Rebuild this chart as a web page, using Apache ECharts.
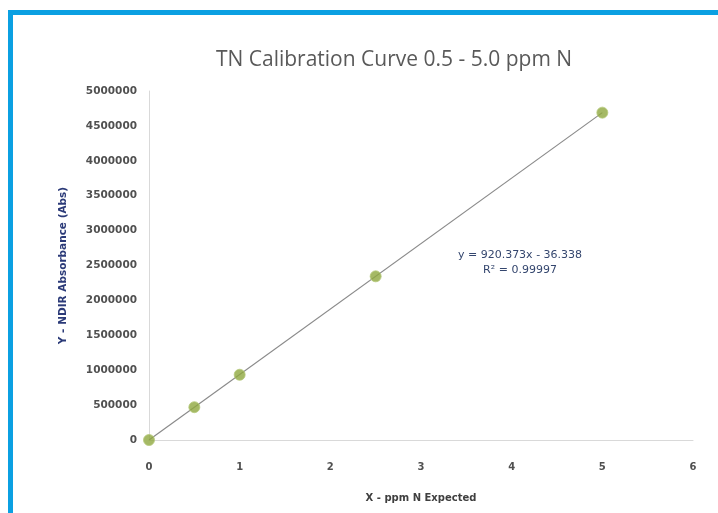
<!DOCTYPE html>
<html>
<head>
<meta charset="utf-8">
<script src="https://cdn.jsdelivr.net/npm/echarts@6/dist/echarts.min.js"></script>
<style>
  html, body { margin: 0; padding: 0; background: #fff; }
  #chart { width: 718px; height: 513px; }
</style>
</head>
<body>
<div id="chart"></div>
<script>
// measured points (ppm N expected vs NDIR absorbance)
var ppmValues = [0, 0.5, 1, 2.5, 5];
var absValues = [0, 470000, 935000, 2345000, 4690000];

// linear trend line end points
var trendX = [0, 5];
var trendY = [-36, 4690000];

var titleText = 'TN Calibration Curve 0.5 - 5.0 ppm N';
var equationLines = ['y = 920.373x - 36.338', 'R\u00b2 = 0.99997'];

var myChart = echarts.init(document.getElementById('chart'));

var points = ppmValues.map(function (x, i) { return [x, absValues[i]]; });
var trend = trendX.map(function (x, i) { return [x, trendY[i]]; });

var option = {
    backgroundColor: '#ffffff',
    animation: false,
    title: {
        text: titleText,
        left: 389,
        top: 45,
        textAlign: 'center',
        textStyle: {
            fontFamily: 'Open Sans',
            fontWeight: 'normal',
            fontSize: 21,
            color: '#595959'
        }
    },
    grid: {
        left: 149,
        right: 25,
        top: 91,
        bottom: 73
    },
    xAxis: {
        type: 'value',
        min: 0,
        max: 6,
        interval: 1,
        name: 'X - ppm N Expected',
        nameLocation: 'middle',
        nameGap: 53,
        nameTextStyle: {
            fontFamily: 'DejaVu Sans',
            fontWeight: 'bold',
            fontSize: 10,
            color: '#404040'
        },
        axisLine: { lineStyle: { color: '#d9d9d9', width: 1 } },
        axisTick: { show: false },
        splitLine: { show: false },
        axisLabel: {
            margin: 22,
            fontFamily: 'DejaVu Sans',
            fontWeight: 'bold',
            fontSize: 10,
            color: '#505050'
        }
    },
    yAxis: {
        type: 'value',
        min: 0,
        max: 5000000,
        interval: 500000,
        name: 'Y - NDIR Absorbance (Abs)',
        nameLocation: 'middle',
        nameGap: 80,
        nameRotate: 90,
        nameTextStyle: {
            fontFamily: 'DejaVu Sans',
            fontWeight: 'bold',
            fontSize: 10.5,
            color: '#2b3a78'
        },
        axisLine: { show: true, lineStyle: { color: '#d9d9d9', width: 1 } },
        axisTick: { show: false },
        splitLine: { show: false },
        axisLabel: {
            margin: 12,
            fontFamily: 'DejaVu Sans',
            fontWeight: 'bold',
            fontSize: 10.5,
            color: '#505050',
            formatter: function (v) { return String(v); }
        }
    },
    series: [
        {
            name: 'trend',
            type: 'line',
            data: trend,
            symbol: 'none',
            lineStyle: { color: '#8a8a8a', width: 1.2 },
            z: 2
        },
        {
            name: 'measured',
            type: 'scatter',
            data: points,
            symbol: 'circle',
            symbolSize: 11,
            itemStyle: {
                color: '#8fa83e',
                borderColor: '#b5c97a',
                borderWidth: 1
            },
            z: 3
        }
    ],
    graphic: [
        {
            type: 'rect',
            shape: { x: 10.5, y: 12.5, width: 760, height: 560 },
            style: { fill: 'none', stroke: '#0ba0e2', lineWidth: 5 },
            silent: true
        },
        {
            type: 'text',
            x: 520,
            y: 255,
            style: {
                text: equationLines[0],
                fontFamily: 'DejaVu Sans',
                fontSize: 11,
                fill: '#34466e',
                align: 'center',
                verticalAlign: 'middle'
            }
        },
        {
            type: 'text',
            x: 520,
            y: 270,
            style: {
                text: equationLines[1],
                fontFamily: 'DejaVu Sans',
                fontSize: 11,
                fill: '#34466e',
                align: 'center',
                verticalAlign: 'middle'
            }
        }
    ]
};

myChart.setOption(option);
</script>
</body>
</html>
